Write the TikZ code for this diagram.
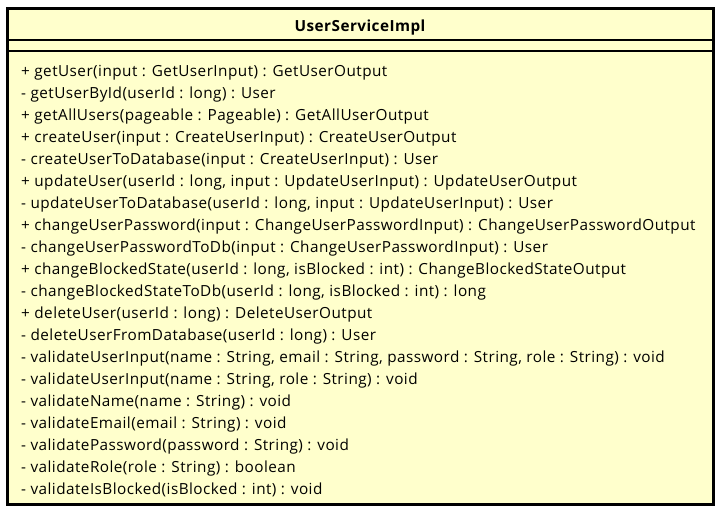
\documentclass[tikz,border=0pt]{standalone}
\usepackage{fontspec}
\setmainfont{Open Sans}[LetterSpace=3]
\definecolor{classfill}{HTML}{FFFFCC}
\tikzset{
  classbox/.style={draw=black, line width=3pt, fill=classfill},
  sepline/.style={draw=black, line width=1.1pt},
  member/.style={anchor=base west, inner sep=0pt, font=\fontsize{15.3}{17}\selectfont},
  title/.style={anchor=base, inner sep=0pt, font=\fontsize{15.3}{17}\selectfont\bfseries}
}
\begin{document}
\begin{tikzpicture}[x=1pt,y=-1pt]
\useasboundingbox (0,0) rectangle (722,515);
\path[classbox] (7.5,8.5) rectangle (713.5,504.5);
\coordinate (s1l) at (9,40); \coordinate (s1r) at (712,40);
\coordinate (s2l) at (9,51); \coordinate (s2r) at (712,51);
\draw[sepline] (s1l) -- (s1r);
\draw[sepline] (s2l) -- (s2r);
\node[title] (name) at (360,31.5) {UserServiceImpl};
\foreach \t [count=\i from 0] in {
{+ getUser(input : GetUserInput) : GetUserOutput},
{- getUserById(userId : long) : User},
{+ getAllUsers(pageable : Pageable) : GetAllUserOutput},
{+ createUser(input : CreateUserInput) : CreateUserOutput},
{- createUserToDatabase(input : CreateUserInput) : User},
{+ updateUser(userId : long, input : UpdateUserInput) : UpdateUserOutput},
{- updateUserToDatabase(userId : long, input : UpdateUserInput) : User},
{+ changeUserPassword(input : ChangeUserPasswordInput) : ChangeUserPasswordOutput},
{- changeUserPasswordToDb(input : ChangeUserPasswordInput) : User},
{+ changeBlockedState(userId : long, isBlocked : int) : ChangeBlockedStateOutput},
{- changeBlockedStateToDb(userId : long, isBlocked : int) : long},
{+ deleteUser(userId : long) : DeleteUserOutput},
{- deleteUserFromDatabase(userId : long) : User},
{- validateUserInput(name : String, email : String, password : String, role : String) : void},
{- validateUserInput(name : String, role : String) : void},
{- validateName(name : String) : void},
{- validateEmail(email : String) : void},
{- validatePassword(password : String) : void},
{- validateRole(role : String) : boolean},
{- validateIsBlocked(isBlocked : int) : void}}
{\node[member] (m\i) at (21,76+22*\i) {\t};}
\end{tikzpicture}
\end{document}
